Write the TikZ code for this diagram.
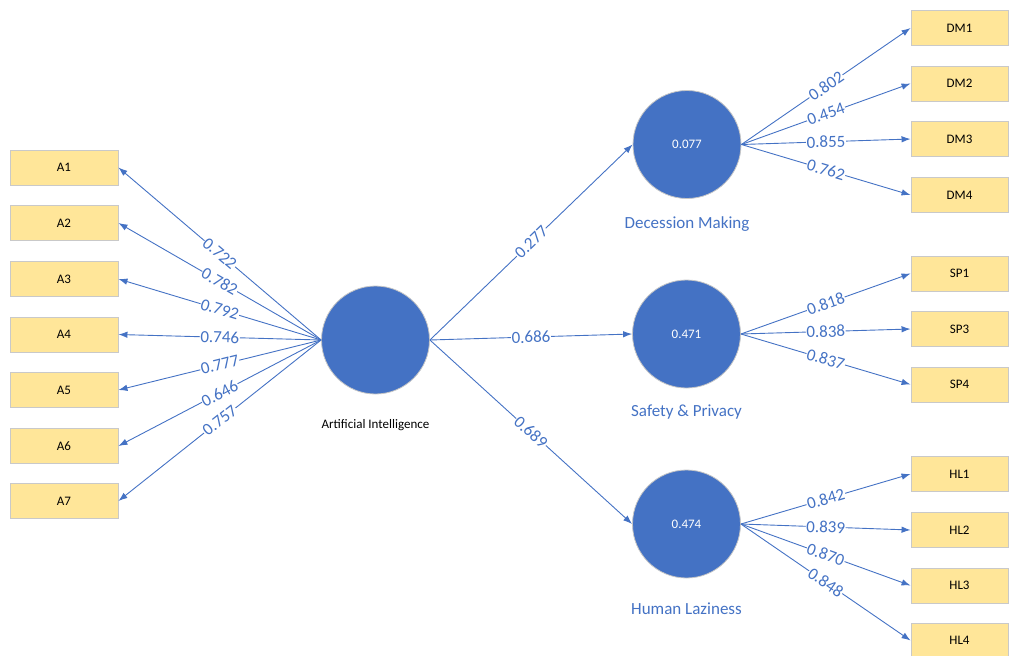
\documentclass[tikz,border=0pt]{standalone}
\usepackage{fontspec}
\setmainfont{Carlito}
\usetikzlibrary{arrows.meta}
\definecolor{lvblue}{HTML}{4472C4}
\definecolor{boxfill}{HTML}{FFE699}
\definecolor{boxline}{HTML}{C9C9C9}
\begin{document}
\begin{tikzpicture}[x=1pt,y=-1pt,
 indl/.style={draw=boxline, fill=boxfill, minimum width=108pt, minimum height=35pt, inner sep=0pt, line width=0.9pt, font=\fontsize{13}{15}\selectfont},
 indr/.style={indl, minimum width=97pt},
 lat/.style={circle, draw=gray!45, line width=0.8pt, fill=lvblue, minimum size=108pt, inner sep=0pt, text=white, font=\fontsize{13}{15}\selectfont},
 lbl/.style={text=lvblue, font=\fontsize{17}{20}\selectfont},
 conn/.style={draw=lvblue, line width=0.9pt, -{Latex[length=9pt,width=6.5pt]}},
 wt/.style={midway, sloped, fill=white, inner sep=0.6pt, text=lvblue, font=\fontsize{17}{20}\selectfont}
]
\useasboundingbox (0,0) rectangle (1010,656);

% latent constructs
\node[lat] (ai) at (375.5,340) {};
\node[lat] (dm) at (687,144.5) {0.077};
\node[lat] (sp) at (686.5,334) {0.471};
\node[lat] (hl) at (686.5,524) {0.474};

\node[font=\fontsize{13}{15}\selectfont] (ail) at (375.5,425) {Artificial Intelligence};
\node[lbl] (dml) at (687,224) {Decession Making};
\node[lbl] (spl) at (686.5,412) {Safety \& Privacy};
\node[lbl] (hll) at (686.5,609) {Human Laziness};

% left indicators
\node[indl] (a1) at (64,167.5) {A1};
\node[indl] (a2) at (64,223) {A2};
\node[indl] (a3) at (64,279) {A3};
\node[indl] (a4) at (64,334.5) {A4};
\node[indl] (a5) at (64,390) {A5};
\node[indl] (a6) at (64,446) {A6};
\node[indl] (a7) at (64,501) {A7};

% right indicators
\node[indr] (dm1) at (959.5,28) {DM1};
\node[indr] (dm2) at (959.5,83.5) {DM2};
\node[indr] (dm3) at (959.5,139) {DM3};
\node[indr] (dm4) at (959.5,195) {DM4};
\node[indr] (sp1) at (959.5,273.5) {SP1};
\node[indr] (sp3) at (959.5,329) {SP3};
\node[indr] (sp4) at (959.5,384.5) {SP4};
\node[indr] (hl1) at (959.5,474) {HL1};
\node[indr] (hl2) at (959.5,530) {HL2};
\node[indr] (hl3) at (959.5,585.5) {HL3};
\node[indr] (hl4) at (959.5,640.5) {HL4};

% AI loadings
\draw[conn] (ai.west) -- node[wt] {0.722} (a1.east);
\draw[conn] (ai.west) -- node[wt] {0.782} (a2.east);
\draw[conn] (ai.west) -- node[wt] {0.792} (a3.east);
\draw[conn] (ai.west) -- node[wt] {0.746} (a4.east);
\draw[conn] (ai.west) -- node[wt] {0.777} (a5.east);
\draw[conn] (ai.west) -- node[wt] {0.646} (a6.east);
\draw[conn] (ai.west) -- node[wt] {0.757} (a7.east);

% structural paths
\draw[conn] (ai.east) -- node[wt] {0.277} (dm.west);
\draw[conn] (ai.east) -- node[wt] {0.686} (sp.west);
\draw[conn] (ai.east) -- node[wt] {0.689} (hl.west);

% DM loadings
\draw[conn] (dm.east) -- node[wt] {0.802} (dm1.west);
\draw[conn] (dm.east) -- node[wt] {0.454} (dm2.west);
\draw[conn] (dm.east) -- node[wt] {0.855} (dm3.west);
\draw[conn] (dm.east) -- node[wt] {0.762} (dm4.west);

% SP loadings
\draw[conn] (sp.east) -- node[wt] {0.818} (sp1.west);
\draw[conn] (sp.east) -- node[wt] {0.838} (sp3.west);
\draw[conn] (sp.east) -- node[wt] {0.837} (sp4.west);

% HL loadings
\draw[conn] (hl.east) -- node[wt] {0.842} (hl1.west);
\draw[conn] (hl.east) -- node[wt] {0.839} (hl2.west);
\draw[conn] (hl.east) -- node[wt] {0.870} (hl3.west);
\draw[conn] (hl.east) -- node[wt] {0.848} (hl4.west);
\end{tikzpicture}
\end{document}
